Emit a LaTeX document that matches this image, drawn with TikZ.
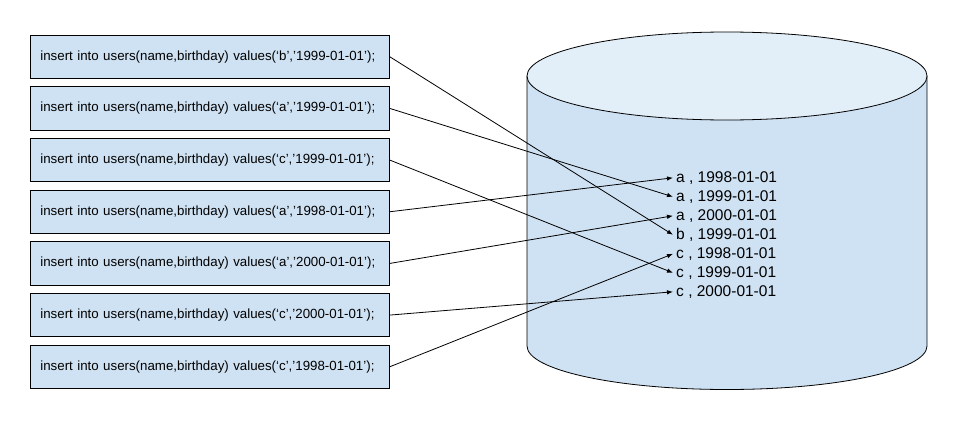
\documentclass[tikz,border=0pt]{standalone}
\usepackage{fontspec}
\setmainfont{Liberation Sans}
\usetikzlibrary{arrows.meta}
\definecolor{boxfill}{HTML}{CFE2F3}
\definecolor{topfill}{HTML}{E2EEF8}
\begin{document}
\begin{tikzpicture}[x=1pt,y=-1pt,
  sqlbox/.style={draw=black, line width=0.8pt, fill=boxfill, minimum width=359pt,
    minimum height=43.5pt, text width=339pt, align=left, inner xsep=10pt, inner ysep=0pt,
    font=\fontsize{13.3pt}{16pt}\selectfont, anchor=west},
  rowtext/.style={anchor=west, inner xsep=3pt, inner ysep=0pt,
    font=\fontsize{15.5pt}{18pt}\selectfont},
  conn/.style={line width=0.8pt, -{Latex[length=6pt,width=4.5pt]}}]
\useasboundingbox (0,0) rectangle (958,423);
% cylinder
\fill[boxfill] (527,76) rectangle (927,346);
\fill[boxfill] (727,346) ellipse [x radius=200pt, y radius=43.5pt];
\draw[line width=0.8pt] (527,76) -- (527,346) arc [start angle=180, end angle=360, x radius=200pt, y radius=43.5pt] -- (927,76);
\draw[line width=0.8pt, fill=topfill] (727,76) ellipse [x radius=200pt, y radius=44pt];
% boxes
\node[sqlbox] (b1) at (30,56.75) {insert into users(name,birthday) values(‘b’,’1999-01-01’);};
\node[sqlbox] (b2) at (30,108.42) {insert into users(name,birthday) values(‘a’,’1999-01-01’);};
\node[sqlbox] (b3) at (30,160.08) {insert into users(name,birthday) values(‘c’,’1999-01-01’);};
\node[sqlbox] (b4) at (30,211.75) {insert into users(name,birthday) values(‘a’,’1998-01-01’);};
\node[sqlbox] (b5) at (30,263.42) {insert into users(name,birthday) values(‘a’,’2000-01-01’);};
\node[sqlbox] (b6) at (30,315.08) {insert into users(name,birthday) values(‘c’,’2000-01-01’);};
\node[sqlbox] (b7) at (30,366.75) {insert into users(name,birthday) values(‘c’,’1998-01-01’);};
% rows
\node[rowtext] (r1) at (673,177.8) {a , 1998-01-01};
\node[rowtext] (r2) at (673,196.8) {a , 1999-01-01};
\node[rowtext] (r3) at (673,215.8) {a , 2000-01-01};
\node[rowtext] (r4) at (673,234.8) {b , 1999-01-01};
\node[rowtext] (r5) at (673,253.8) {c , 1998-01-01};
\node[rowtext] (r6) at (673,272.8) {c , 1999-01-01};
\node[rowtext] (r7) at (673,291.8) {c , 2000-01-01};
% connectors
\draw[conn] (b1.east) -- (r4.west);
\draw[conn] (b2.east) -- (r2.west);
\draw[conn] (b3.east) -- (r6.west);
\draw[conn] (b4.east) -- (r1.west);
\draw[conn] (b5.east) -- (r3.west);
\draw[conn] (b6.east) -- (r7.west);
\draw[conn] (b7.east) -- (r5.west);
\end{tikzpicture}
\end{document}
